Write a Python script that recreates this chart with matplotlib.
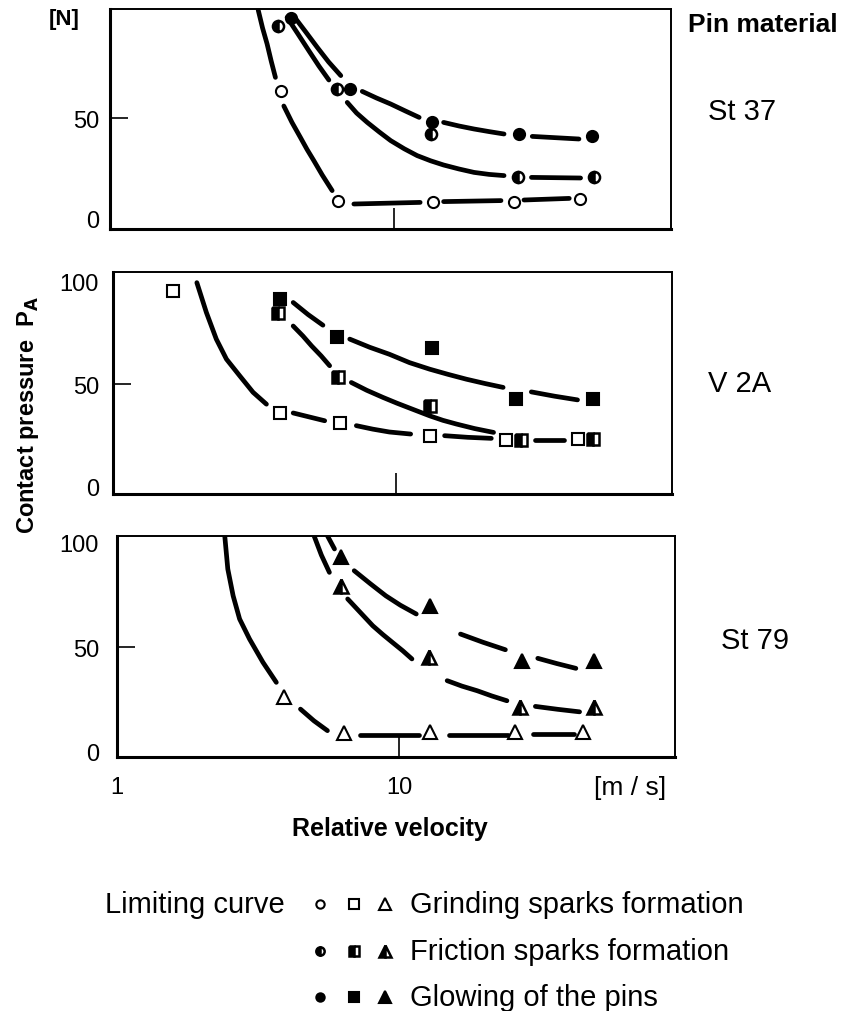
import matplotlib
matplotlib.use("Agg")
import matplotlib.pyplot as plt
from matplotlib.ticker import NullLocator

plt.rcParams["font.family"] = ["Liberation Sans", "DejaVu Sans"]

W, H = 846, 1012

# ---- St 37 (circles) ----
st37_grind_x = [4.0, 6.39, 13.8, 26.6, 45.5]
st37_grind_y = [63.5, 8.7, 7.8, 7.8, 9.5]
st37_fric_x = [3.92, 6.29, 13.5, 27.5, 51]
st37_fric_y = [96, 64.5, 42, 20.3, 20.3]
st37_glow_x = [4.33, 7.0, 13.6, 27.7, 50]
st37_glow_y = [100, 64.5, 48, 42, 41]

st37_grind_curve = [
    ([3.33, 3.45, 3.58, 3.7, 3.83], [104, 95, 87, 78.5, 70.3]),
    ([4.10, 4.38, 4.69, 4.95, 5.23, 5.6, 6.07], [56, 47.8, 40.3, 34.3, 28.7, 21.5, 13.7]),
    ([7.24, 12.4], [7.0, 7.8]),
    ([15.0, 23.9], [8.2, 8.7]),
    ([28.8, 41.6], [9.0, 9.8]),
]
st37_fric_curve = [
    ([4.21, 4.6, 5.02, 5.45, 5.91], [100.3, 92, 83.7, 76, 69]),
    ([6.86, 7.4, 8.07, 8.9, 9.76, 10.9, 12.1, 13.5, 15.0, 17.0, 19.2, 21.7, 24.5],
     [57.8, 52.5, 47.8, 43, 38.7, 34.6, 31.2, 28.6, 26.5, 24.5, 22.8, 21.8, 21.2]),
    ([30.6, 45.6], [20.3, 20.0]),
]
st37_glow_curve = [
    ([4.44, 4.9, 5.38, 5.9, 6.51], [101, 93, 85.3, 78, 71.2]),
    ([7.75, 8.7, 9.76, 11.0, 12.3], [63.3, 60, 57, 53.5, 50.3]),
    ([15.0, 17.0, 19.2, 21.7, 24.5], [47.8, 46, 44.5, 43.2, 42]),
    ([30.8, 45.0], [40.8, 39.5]),
]

# ---- V2A (squares) ----
v2a_grind_x = [1.63, 3.89, 6.38, 13.2, 24.6, 44]
v2a_grind_y = [95.5, 35.9, 31, 24.8, 22.8, 23.2]
v2a_fric_x = [3.84, 6.25, 13.2, 27.7, 49.8]
v2a_fric_y = [85, 53.3, 39.4, 22.8, 23.2]
v2a_glow_x = [3.89, 6.2, 13.4, 26.7, 49.8]
v2a_glow_y = [91.8, 73.1, 67.9, 42.7, 42.7]

v2a_grind_curve = [
    ([1.98, 2.14, 2.32, 2.52, 2.81, 3.13, 3.49], [99.6, 85, 72, 62.2, 54, 46, 40.2]),
    ([4.34, 5.0, 5.61], [35.9, 33.8, 32.1]),
    ([7.26, 8.3, 9.5, 11.3], [29.7, 28, 26.6, 25.6]),
    ([14.9, 18.0, 21.8], [24.8, 24.0, 23.5]),
    ([31.0, 39.4], [22.8, 22.8]),
]
v2a_fric_curve = [
    ([4.34, 4.7, 5.04, 5.45, 5.84], [78.4, 73.5, 68.7, 63.8, 59]),
    ([6.97, 7.9, 9.02, 10.1, 11.2, 13.2, 14.7, 16.4, 19.0, 22.2],
     [50.8, 47, 43.5, 40.7, 38.3, 34.5, 32.3, 30.5, 28.3, 26.4]),
]
v2a_glow_curve = [
    ([4.34, 4.9, 5.53], [89.9, 84, 78.8]),
    ([6.88, 8.1, 9.5, 11.2, 13.2, 15.3, 17.8, 20.7, 24.0],
     [72, 68, 64.6, 60.5, 57.3, 54.8, 52.4, 50.3, 48.4]),
    ([30.2, 36.5, 44.0], [46.2, 44.1, 42.3]),
]

# ---- St 79 (triangles) ----
st79_grind_x = [3.91, 6.36, 12.9, 25.8, 45]
st79_grind_y = [25.9, 8.9, 9.2, 9.2, 9.5]
st79_fric_x = [6.22, 12.8, 26.9, 48.9]
st79_fric_y = [79.3, 45, 21.1, 21.1]
st79_glow_x = [6.22, 12.9, 27.3, 48.9]
st79_glow_y = [92.9, 69.8, 43.5, 43.5]

st79_grind_curve = [
    ([2.41, 2.47, 2.58, 2.72, 2.95, 3.29, 3.67], [103, 87.3, 74.5, 63.4, 53.8, 42.7, 33.1]),
    ([4.47, 4.99, 5.57], [20.3, 14.7, 10]),
    ([7.25, 11.8], [7.9, 7.9]),
    ([15.0, 24.4], [7.9, 7.9]),
    ([29.8, 41.5], [8.6, 8.6]),
]
st79_fric_curve = [
    ([5.0, 5.3, 5.66], [103, 94, 85.7]),
    ([6.57, 7.3, 8.06, 8.75, 9.47, 10.3, 11.1], [73, 66.4, 60.2, 56, 52.2, 48.2, 44.3]),
    ([14.8, 16.7, 18.9, 21.3, 24.1], [33.9, 31.3, 29.1, 26.6, 24.3]),
    ([30.4, 36.5, 43.6], [21.6, 20.2, 19.0]),
]
st79_glow_curve = [
    ([5.58, 5.9], [103, 96.9]),
    ([6.93, 7.9, 8.97, 10.1, 11.5], [86.5, 80.3, 74.5, 70, 65.8]),
    ([16.5, 19.8, 23.8], [56.2, 52.3, 48.7]),
    ([31.0, 36.2, 42.3], [44.6, 42.1, 39.8]),
]

materials = ["St 37", "V 2A", "St 79"]
legend_labels = ["Grinding sparks formation", "Friction sparks formation", "Glowing of the pins"]

fig = plt.figure(figsize=(W / 100, H / 100), dpi=100)


def px_axes(left, top, right, bottom):
    return fig.add_axes([left / W, 1 - bottom / H, (right - left) / W, (bottom - top) / H])


def ftext(x, y, s, **kw):
    fig.text(x / W, 1 - y / H, s, **kw)


panels = [
    dict(box=(110, 10, 671, 230), ylim=(-5.5, 104.5), marker="o",
         pts=[(st37_grind_x, st37_grind_y), (st37_fric_x, st37_fric_y), (st37_glow_x, st37_glow_y)],
         curves=[st37_grind_curve, st37_fric_curve, st37_glow_curve]),
    dict(box=(113, 273, 672, 495), ylim=(-3.7, 104.8), marker="s",
         pts=[(v2a_grind_x, v2a_grind_y), (v2a_fric_x, v2a_fric_y), (v2a_glow_x, v2a_glow_y)],
         curves=[v2a_grind_curve, v2a_fric_curve, v2a_glow_curve]),
    dict(box=(117, 537, 675, 758), ylim=(-2.6, 103.1), marker="^",
         pts=[(st79_grind_x, st79_grind_y), (st79_fric_x, st79_fric_y), (st79_glow_x, st79_glow_y)],
         curves=[st79_grind_curve, st79_fric_curve, st79_glow_curve]),
]

msize = {"o": 8, "s": 8, "^": 10.5}
styles = [
    dict(markerfacecolor="white", markeredgecolor="black", markeredgewidth=1.5),
    dict(markerfacecolor="black", markerfacecoloralt="white", fillstyle="left",
         markeredgecolor="black", markeredgewidth=1.8),
    dict(markerfacecolor="black", markeredgecolor="black", markeredgewidth=1.5),
]

for i, p in enumerate(panels):
    ax = px_axes(*p["box"])
    ax.set_xscale("log")
    ax.set_xlim(1, 95)
    ax.set_ylim(*p["ylim"])
    for curve in p["curves"]:
        for xs, ys in curve:
            ax.plot(xs, ys, color="black", lw=3.4, solid_capstyle="round",
                    solid_joinstyle="round", zorder=2)
    for (xs, ys), st in zip(p["pts"], styles):
        ax.plot(xs, ys, ls="none", marker=p["marker"], markersize=msize[p["marker"]], zorder=4, **st)

    ax.xaxis.set_minor_locator(NullLocator())
    ax.yaxis.set_minor_locator(NullLocator())
    ax.set_xticks([1, 10])
    ax.set_yticks([0, 50, 100])
    ylabels = ["0", "50", "100"] if i > 0 else ["0", "50", ""]
    ax.set_yticklabels(ylabels)
    if i == 2:
        ax.set_xticklabels(["1", "10"])
    else:
        ax.set_xticklabels(["", ""])
    ax.tick_params(axis="y", direction="in", length=13, width=1.2, labelsize=17,
                   pad=(p["box"][0] - 99) * 0.72)
    ax.tick_params(axis="x", direction="in", length=15, width=1.2, labelsize=17, pad=14)
    for t, loc in zip(ax.yaxis.get_major_ticks(), [0, 50, 100]):
        if loc != 50:
            t.tick1line.set_visible(False)
    ax.xaxis.get_major_ticks()[0].tick1line.set_visible(False)

    for side in ["left", "bottom"]:
        ax.spines[side].set_linewidth(2.2)
    for side in ["top", "right"]:
        ax.spines[side].set_linewidth(1.4)
    for sp in ax.spines.values():
        sp.set_zorder(5)

# panel side labels
ftext(64, 20, "[N]", fontsize=16, fontweight="bold", ha="center", va="center")
ftext(688, 25, "Pin material", fontsize=19, fontweight="bold", ha="left", va="center")
ftext(742, 112, materials[0], fontsize=21, ha="center", va="center")
ftext(740, 384, materials[1], fontsize=21, ha="center", va="center")
ftext(755, 641, materials[2], fontsize=21, ha="center", va="center")
ftext(630, 788, "[m / s]", fontsize=19, ha="center", va="center")
ftext(390, 829, "Relative velocity", fontsize=18, fontweight="bold", ha="center", va="center")
ftext(28, 415, "Contact pressure  P$_\\mathbf{A}$", fontsize=17, fontweight="bold",
      rotation=90, ha="center", va="center")

# legend block
ftext(105, 905, "Limiting curve", fontsize=21, ha="left", va="center")
lax = fig.add_axes([0, 0, 1, 1])
lax.set_xlim(0, W)
lax.set_ylim(H, 0)
lax.axis("off")
rows_y = [905, 952, 998]
leg_size = {"o": 6, "s": 6.5, "^": 9}
for ry, st, lab in zip(rows_y, styles, legend_labels):
    for mx, mk in zip([320, 354, 385], ["o", "s", "^"]):
        lax.plot([mx], [ry], ls="none", marker=mk, markersize=leg_size[mk], **st)
    lax.text(410, ry, lab, fontsize=21, ha="left", va="center")

fig.savefig("out.png", dpi=100)
